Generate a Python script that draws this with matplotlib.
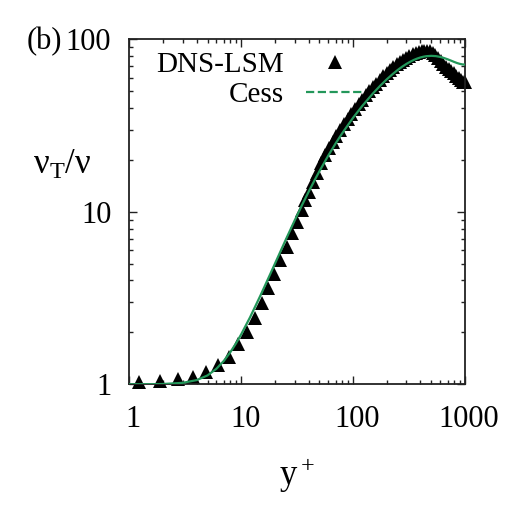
import numpy as np
import matplotlib
matplotlib.use("Agg")
import matplotlib.pyplot as plt
import matplotlib.transforms as mtransforms
from matplotlib.lines import Line2D
from matplotlib.ticker import NullFormatter

plt.rcParams['font.family'] = ['Liberation Serif', 'DejaVu Serif']
plt.rcParams['mathtext.fontset'] = 'custom'
plt.rcParams['mathtext.rm'] = 'Liberation Serif'
plt.rcParams['mathtext.it'] = 'Liberation Serif:italic'

# DNS-LSM points (y+, nu_T/nu)
dns_y = [1.22, 1.89, 2.74, 3.69, 4.84, 6.16, 7.72, 9.43, 11.2, 13.2, 15.3, 17.5,
         19.6, 22.2, 25.5, 28.5, 31.3, 34.8, 37.2, 40.5, 44, 48, 52, 56.5, 61,
         66, 71, 77, 83, 89.5, 96.5, 104, 112, 120.5, 130, 140, 150, 161, 173,
         186, 200, 214, 229, 245, 262, 280, 299, 319, 340, 362, 385, 409, 434,
         460, 487, 515, 545, 576, 608, 642, 677, 714, 752, 792, 833, 876, 920,
         965, 1000]
dns_nu = [1.035, 1.049, 1.069, 1.098, 1.178, 1.299, 1.446, 1.713, 2.02, 2.43, 2.95, 3.60,
          4.35, 5.26, 6.28, 7.51, 8.77, 10.27, 11.75, 13.1, 14.85, 16.9, 19.1, 21.3, 23.5,
          25.6, 27.7, 30.0, 32.3, 34.6, 37.1, 39.5, 42.2, 44.8, 47.6, 50.2, 52.9, 55.5, 58.5,
          61.1, 64.1, 66.6, 69.2, 71.7, 74.2, 76.4, 78.5, 80.6, 82.3, 83.7, 85.0, 85.8, 86.3,
          86.2, 85.3, 83.6, 81.0, 78.2, 75.3, 72.2, 69.3, 67.3, 65.5, 63.5, 61.5, 59.7, 58.2,
          57.0, 56.5]

# Cess profile
cess_y = [1, 1.5, 2, 3, 4, 5, 6, 7, 8, 9, 10, 12, 15, 18, 20, 25, 30, 35, 40, 45, 50,
          60, 70, 80, 100, 120, 150, 175, 200, 225, 250, 275, 300, 325, 350, 375, 400,
          425, 450, 500, 550, 600, 650, 700, 750, 800, 850, 900, 950, 1000]
cess_nu = [1.0003, 1.0013, 1.0041, 1.0197, 1.0575, 1.126, 1.230, 1.368, 1.536, 1.731, 1.950,
           2.448, 3.317, 4.299, 5.00, 6.89, 8.90, 10.97, 13.06, 15.15, 17.21,
           21.22, 25.03, 28.61, 35.16, 40.97, 48.54, 53.99, 58.75, 62.9, 66.5, 69.6, 72.2,
           74.37, 76.15, 77.57, 78.66, 79.46, 79.99, 80.38, 80.06, 79.23, 78.06, 76.74,
           75.4, 74.1, 73.0, 72.2, 71.67, 71.5]

green = '#23975a'

fig = plt.figure(figsize=(5.25, 5.25), dpi=100)
ax = fig.add_axes([0.2463, 0.268, 0.6394, 0.6568])

ax.plot(dns_y, dns_nu, ls='none', marker='^', ms=9.5, mew=0, color='black',
        clip_on=False, zorder=2)
ax.plot(cess_y, cess_nu, color=green, lw=1.6, zorder=3)

ax.set_xscale('log')
ax.set_yscale('log')
ax.set_xlim(1, 1000)
ax.set_ylim(1, 100)

ax.set_xticks([1, 10, 100, 1000])
ax.set_xticklabels(['1', '10', '100', '1000'])
ax.set_yticks([1, 10, 100])
ax.set_yticklabels(['1', '10', '100'])
ax.xaxis.set_minor_formatter(NullFormatter())
ax.yaxis.set_minor_formatter(NullFormatter())

ax.tick_params(which='both', direction='in', top=True, right=True,
               width=1, colors='#222222', labelcolor='black')
ax.tick_params(which='major', length=6)
ax.tick_params(which='minor', length=3)
ax.tick_params(axis='x', which='major', labelsize=22, pad=15)
ax.tick_params(axis='y', which='major', labelsize=22, pad=13)
for s in ax.spines.values():
    s.set_linewidth(1.3)
    s.set_color('#222222')

# x tick labels sit a little to the right of their ticks in the original
shift = mtransforms.ScaledTranslation(4 / 100, 0, fig.dpi_scale_trans)
for lab in ax.get_xticklabels():
    lab.set_transform(lab.get_transform() + shift)

handles = [Line2D([], [], ls='none', marker='^', ms=9.5, mew=0, color='black'),
           Line2D([], [], ls='--', lw=1.6, color=green)]
ax.legend(handles, ['DNS-LSM', 'Cess'], loc='upper right', markerfirst=False,
          frameon=False, fontsize=21, bbox_to_anchor=(0.7, 0.965),
          borderaxespad=0, borderpad=0, handlelength=2.0, handletextpad=0.75,
          labelspacing=0.12)

fig.text(62 / 525, 1 - 165 / 525, r'$\mathrm{\nu_T/\nu}$', fontsize=25,
         ha='center', va='center')
fig.text(297 / 525, 1 - 475 / 525, r'$\mathrm{y^+}$', fontsize=25,
         ha='center', va='center')
fig.text(62 / 525, 1 - 42 / 525, '(b)', fontsize=22, ha='right', va='center')

fig.savefig('out.png', dpi=100)
